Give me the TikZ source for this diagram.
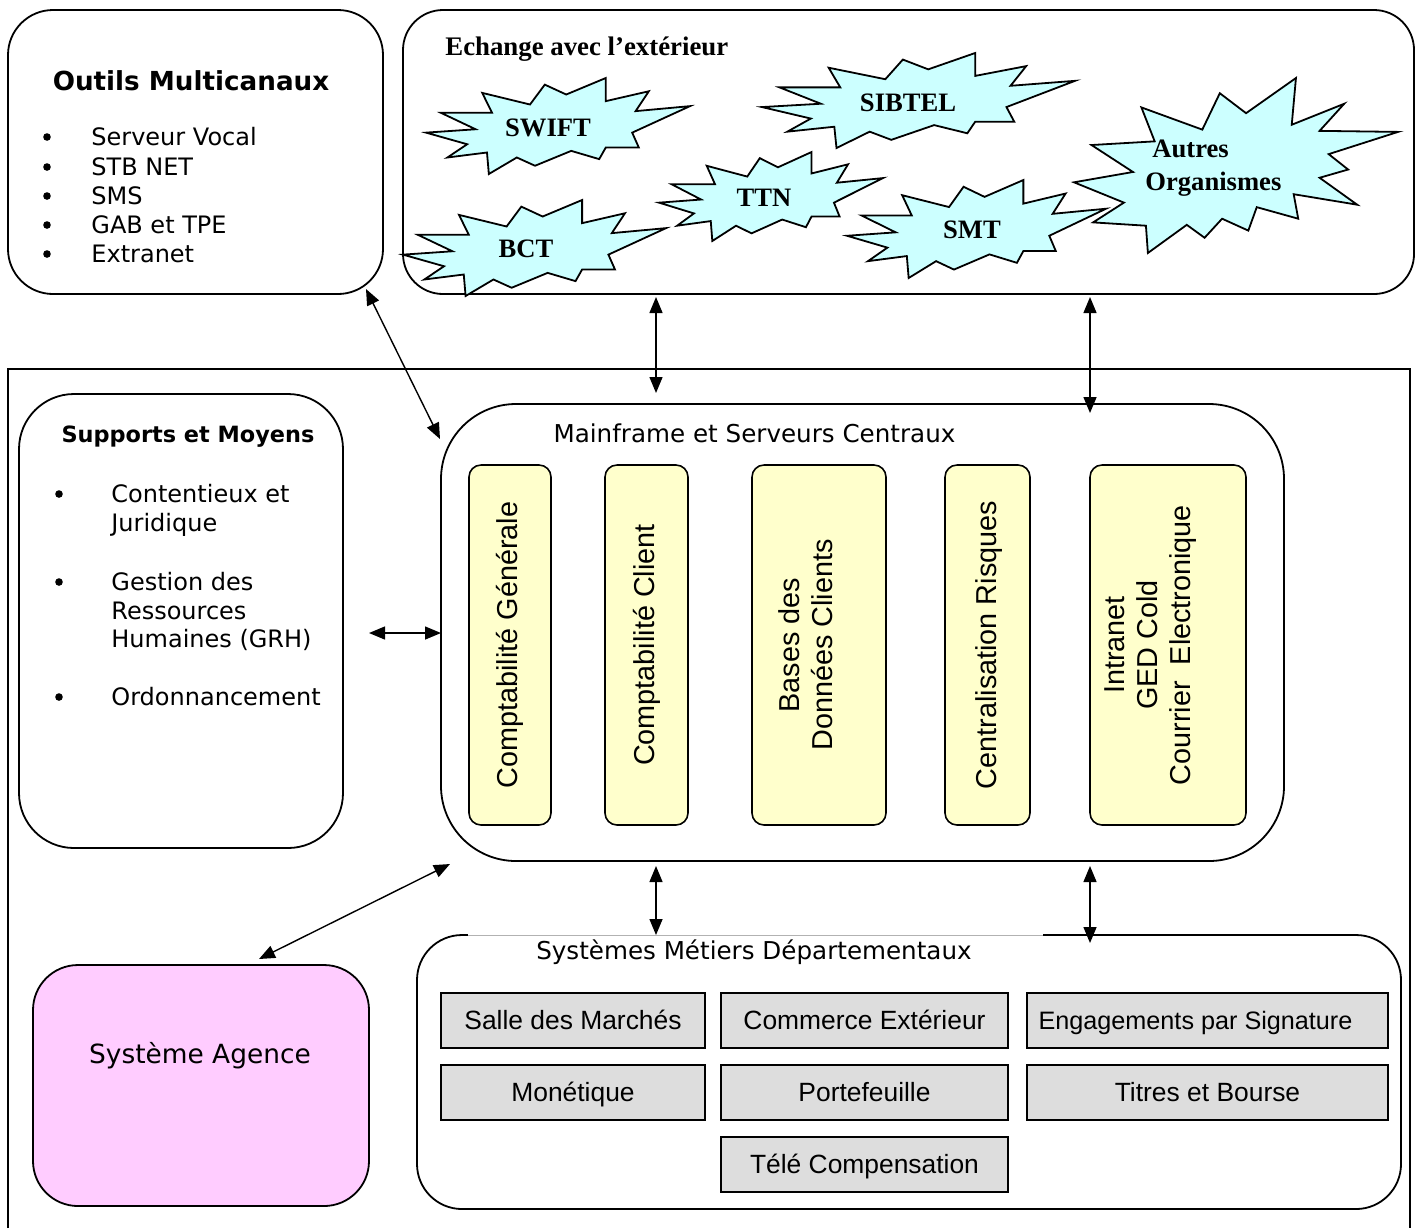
\documentclass[tikz,border=0pt]{standalone}
\usepackage{fontspec}
\setmainfont{DejaVu Sans}
\newfontfamily\tahfont{DejaVu Sans}
\newfontfamily\arifont{Liberation Sans}
\newfontfamily\timfont{Liberation Serif}
\usetikzlibrary{arrows.meta,calc}
\definecolor{starcyan}{HTML}{CCFFFF}
\definecolor{boxyellow}{HTML}{FFFFCC}
\definecolor{boxgray}{HTML}{DDDDDD}
\definecolor{boxpink}{HTML}{FFCCFF}

\newcommand{\sealone}[4]{%
  \draw[starsty] (#1+0.213*#3,#2+0.155*#4)
  \foreach \px/\py in {0.25/0.362, 0.056/0.362, 0.188/0.534, 0/0.569, 0.156/0.690,
    0.081/0.828, 0.231/0.776, 0.238/1, 0.344/0.828, 0.413/0.914, 0.55/0.759,
    0.656/0.845, 0.681/0.724, 0.806/0.724, 0.781/0.569, 1/0.293, 0.794/0.345,
    0.844/0.138, 0.681/0.241, 0.681/0, 0.531/0.172, 0.450/0.069, 0.394/0.276}
    { -- (#1+\px*#3,#2+\py*#4) } -- cycle;}
\newcommand{\sealtwo}[4]{%
  \draw[starsty] (#1+0.531*#3,#2+0.201*#4)
  \foreach \px/\py in {0.685/0, 0.672/0.267, 0.834/0.147, 0.758/0.302, 1/0.308,
    0.786/0.435, 0.846/0.523, 0.758/0.570, 0.874/0.724, 0.678/0.664, 0.692/0.804,
    0.564/0.738, 0.538/0.872, 0.457/0.804, 0.403/0.913, 0.348/0.839, 0.228/1,
    0.222/0.844, 0.059/0.825, 0.154/0.712, 0/0.596, 0.182/0.537, 0.054/0.383,
    0.249/0.362, 0.208/0.168, 0.396/0.295, 0.450/0.087} { -- (#1+\px*#3,#2+\py*#4) } -- cycle;}

\begin{document}
\begin{tikzpicture}[x=0.5pt,y=-0.5pt,
  rbox/.style={draw, line width=0.9pt, fill=white, rectangle, inner sep=0pt},
  starsty/.style={draw, fill=starcyan, line width=0.9pt, line join=miter},
  ybox/.style={draw, fill=boxyellow, line width=0.8pt, rounded corners=6pt, inner sep=0pt, minimum height=180pt},
  gbox/.style={draw, fill=boxgray, line width=0.9pt, inner sep=0pt, minimum height=27.5pt, text height=10.5pt, text depth=1.5pt, font=\arifont\fontsize{13.2}{15}\selectfont},
  vtext/.style={rotate=90, align=center, font=\arifont\fontsize{14.4}{16.5}\selectfont, inner sep=0pt},
  arr/.style={{Triangle[length=8pt,width=6.5pt]}-{Triangle[length=8pt,width=6.5pt]}, line width=0.7pt},
  sttext/.style={font=\timfont\bfseries\fontsize{13.3}{16}\selectfont, anchor=base, inner sep=0pt},
  listtext/.style={font=\tahfont\fontsize{12}{14.6}\selectfont, anchor=base west, inner sep=0pt},
  bul/.style={circle, fill=black, inner sep=0pt, minimum size=3.8pt},
  titletext/.style={font=\tahfont\fontsize{12.3}{14.6}\selectfont, anchor=base, inner sep=0pt}]
\useasboundingbox (0,0) rectangle (1416,1228);

% outer frame
\draw[line width=0.8pt] (8,1228) -- (8,369) -- (1410,369) -- (1410,1228);

% main boxes
\node[rbox, rounded corners=22.5pt, minimum width=187.5pt, minimum height=142pt] (outils) at (195.5,152) {};
\node[rbox, rounded corners=20pt, minimum width=505.5pt, minimum height=142pt] (echange) at (908.5,152) {};
\node[rbox, rounded corners=27.5pt, minimum width=162pt, minimum height=227pt] (supports) at (181,621) {};
\node[rbox, rounded corners=37.5pt, minimum width=421.5pt, minimum height=228.5pt] (mainframe) at (862.5,632.5) {};
\node[rbox, rounded corners=22.5pt, minimum width=492pt, minimum height=137pt] (sysmet) at (909,1072) {};
\node[rbox, fill=boxpink, rounded corners=22.5pt, minimum width=168pt, minimum height=120.5pt] (agence) at (201,1085.5) {};
\draw[white, line width=1.4pt] (468,935) -- (1043,935);
\draw[gray!60, line width=0.4pt] (468,935) -- (1043,935);

% Outils Multicanaux
\node[font=\tahfont\bfseries\fontsize{13.1}{15}\selectfont, anchor=base, inner sep=0pt] (outilsT) at (191,90) {Outils Multicanaux};
\foreach \t/\yy [count=\i] in {Serveur Vocal/145, STB NET/175, SMS/204, GAB et TPE/233, Extranet/262} {
  \node[bul] (ob\i) at (47,\yy-8) {};
  \node[listtext] (ol\i) at (91,\yy) {\t};
}

% Echange avec l'exterieur
\node[font=\timfont\bfseries\fontsize{13.4}{16}\selectfont, anchor=base west, inner sep=0pt] (echT) at (445,55) {Echange avec l’extérieur};
\sealone{426}{78}{264}{96}
\sealone{762}{53}{313}{95}
\sealone{403}{200}{263}{96}
\sealone{659}{152}{224}{89}
\sealone{847}{180}{259}{98}
\sealtwo{1074}{78}{324}{175}
\node[sttext] (swift) at (548,136) {SWIFT};
\node[sttext] (sibtel) at (908,111) {SIBTEL};
\node[sttext] (ttn) at (764,206) {TTN};
\node[sttext] (bct) at (526,257) {BCT};
\node[sttext] (smt) at (972,238) {SMT};
\node[sttext, anchor=base west] (autres) at (1152,157) {Autres};
\node[sttext, anchor=base west] (organismes) at (1145,190) {Organismes};

% Supports et Moyens
\node[font=\tahfont\bfseries\fontsize{11.2}{14}\selectfont, anchor=base, inner sep=0pt] (supT) at (188,442) {Supports et Moyens};
\node[bul] (sb1) at (59,494) {};
\node[bul] (sb2) at (59,582) {};
\node[bul] (sb3) at (59,697) {};
\foreach \t/\yy [count=\i] in {Contentieux et/502, Juridique/531, Gestion des/590, Ressources/619, Humaines (GRH)/647, Ordonnancement/705} {
  \node[listtext] (sl\i) at (111,\yy) {\t};
}

% Mainframe
\node[titletext] (mainT) at (754.5,442) {Mainframe et Serveurs Centraux};
\node[ybox, minimum width=41pt] (c1) at (510,645) {};
\node[ybox, minimum width=41.5pt] (c2) at (646.5,645) {};
\node[ybox, minimum width=67pt] (c3) at (819,645) {};
\node[ybox, minimum width=42.5pt] (c4) at (987.5,645) {};
\node[ybox, minimum width=78pt] (c5) at (1168,645) {};
\node[vtext] (t1) at (510,645) {Comptabilité Générale};
\node[vtext] (t2) at (647,645) {Comptabilité Client};
\node[vtext] (t3) at (806,645) {Bases des\\Données Clients};
\node[vtext] (t4) at (989,645) {Centralisation Risques};
\node[vtext] (t5) at (1151,645) {Intranet\\GED Cold\\Courrier\ \ Electronique};

% Systemes Metiers
\node[titletext] (sysT) at (754,959) {Systèmes Métiers Départementaux};
\node[gbox, minimum width=132pt] (g1) at (573,1020.5) {Salle des Marchés};
\node[gbox, minimum width=143.5pt] (g2) at (864.5,1020.5) {Commerce Extérieur};
\node[gbox, minimum width=180.5pt, font=\arifont\fontsize{12.6}{15}\selectfont] (g3) at (1207.5,1020.5) {\hspace*{-12pt}Engagements par Signature};
\node[gbox, minimum width=132pt] (g4) at (573,1092.5) {Monétique};
\node[gbox, minimum width=143.5pt] (g5) at (864.5,1092.5) {Portefeuille};
\node[gbox, minimum width=180.5pt] (g6) at (1207.5,1092.5) {Titres et Bourse};
\node[gbox, minimum width=143.5pt] (g7) at (864.5,1164.5) {Télé Compensation};

% Systeme Agence
\node[font=\tahfont\fontsize{13.2}{15}\selectfont, anchor=base, inner sep=0pt] (agT) at (200,1063) {Système Agence};

% connectors
\coordinate (o1) at (366,289); \coordinate (m1) at (440,439);
\coordinate (e1) at (656,297); \coordinate (m2) at (656,393);
\coordinate (e2) at (1090,297); \coordinate (m3) at (1090,413);
\coordinate (s1) at (369,633); \coordinate (m4) at (441,633);
\coordinate (a1) at (259,959); \coordinate (m5) at (450,864);
\coordinate (m6) at (656,866); \coordinate (d1) at (656,935);
\coordinate (m7) at (1090,866); \coordinate (d2) at (1090,943);
\draw[arr] (o1) -- (m1);
\draw[arr] (e1) -- (m2);
\draw[arr] (e2) -- (m3);
\draw[arr] (s1) -- (m4);
\draw[arr] (a1) -- (m5);
\draw[arr] (m6) -- (d1);
\draw[arr] (m7) -- (d2);
\end{tikzpicture}
\end{document}
